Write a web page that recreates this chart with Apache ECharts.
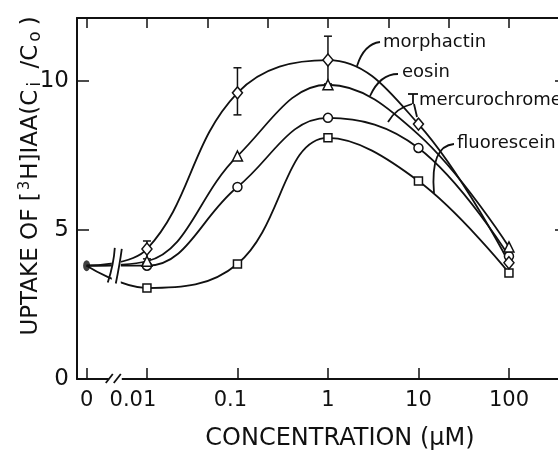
<!DOCTYPE html>
<html>
<head>
<meta charset="utf-8">
<script src="https://cdn.jsdelivr.net/npm/echarts@6/dist/echarts.min.js"></script>
<style>
    html, body { margin: 0; padding: 0; background: #fff; }
    #main { width: 558px; height: 451px; }
</style>
</head>
<body>
<div id="main"></div>
<script>
// 横轴用 log10(浓度)，"0" 放在 0.01 左边 2/3 个数量级处
var ZERO_POS = -8 / 3;
var concLabels = ['0', '0.01', '0.1', '1', '10', '100'];
var concPos = [ZERO_POS, -2, -1, 0, 1, 2];
var topTicks = [ZERO_POS, -2, -4 / 3, -2 / 3, 0, 2 / 3, 4 / 3, 2];
var yTicks = [0, 5, 10];

// 0 浓度对照
var control = [3.8];

// 0.01, 0.1, 1, 10, 100 μM
var morphactin = [4.36, 9.6, 10.7, 8.55, 3.9];
var eosin = [3.95, 7.48, 9.87, 8.2, 4.43];
var mercurochrome = [3.8, 6.44, 8.76, 7.75, 4.12];
var fluorescein = [3.05, 3.86, 8.09, 6.64, 3.56];

// morphactin 误差线
var errX = [-2, -1, 0];
var errLow = [4.03, 8.86, 9.9];
var errHigh = [4.63, 10.44, 11.5];

(function () {
    var FONT = 'DejaVu Sans';
    var INK = '#111';
    var myechart = echarts.init(document.getElementById('main'));

    // 每条曲线都从对照点出发
    var curve = function (name, vals, symbol, size) {
        var data = [{value: [ZERO_POS, control[0]], symbol: 'none'}];
        vals.forEach(function (v, i) {
            data.push([concPos[i + 1], v]);
        });
        return {
            name: name,
            type: 'line',
            data: data,
            smooth: 0.4,
            symbol: symbol,
            symbolSize: size,
            showAllSymbol: true,
            z: 3,
            lineStyle: {color: INK, width: 1.8},
            itemStyle: {color: '#fff', borderColor: INK, borderWidth: 1.5}
        };
    };

    var sMorph = curve('morphactin', morphactin, 'diamond', [10, 12]);
    var sEosin = curve('eosin', eosin, 'triangle', 10);
    var sMerc = curve('mercurochrome', mercurochrome, 'circle', 9);
    var sFluo = curve('fluorescein', fluorescein, 'rect', 8);
    // eosin 在 10 μM 处图上看不到符号
    sEosin.data[4] = {value: sEosin.data[4], symbol: 'none'};

    var errData = errX.map(function (x, i) {
        return [x, errLow[i], errHigh[i]];
    });

    var labelRich = {
        n: {fontSize: 21, fontFamily: FONT, color: INK},
        a: {fontSize: 21, fontFamily: FONT, color: INK, padding: [0, 28, 0, 0]},
        b: {fontSize: 21, fontFamily: FONT, color: INK, padding: [0, 14, 0, 0]}
    };

    var option = {
        animation: false,
        grid: {
            left: 77,
            right: -2,
            top: 18,
            bottom: 72,
            containLabel: false,
            outerBoundsMode: 'none'
        },
        xAxis: [
            {
                type: 'value',
                min: -2.773,
                max: 2.564,
                position: 'bottom',
                axisLine: {onZero: false, lineStyle: {color: INK, width: 2}},
                axisTick: {inside: true, length: 11, customValues: concPos, lineStyle: {color: INK, width: 1.5}},
                axisLabel: {
                    customValues: concPos,
                    margin: 11,
                    color: INK,
                    fontSize: 21,
                    fontFamily: FONT,
                    formatter: function (v) {
                        var idx = 0;
                        concPos.forEach(function (p, i) {
                            if (Math.abs(p - v) < 1e-6) idx = i;
                        });
                        var key = idx === 1 ? 'a' : (idx === 2 ? 'b' : 'n');
                        return '{' + key + '|' + concLabels[idx] + '}';
                    },
                    rich: labelRich
                },
                splitLine: {show: false}
            },
            {
                type: 'value',
                min: -2.773,
                max: 2.564,
                position: 'top',
                axisLine: {onZero: false, lineStyle: {color: INK, width: 2}},
                axisTick: {inside: true, length: 10, customValues: topTicks, lineStyle: {color: INK, width: 1.5}},
                axisLabel: {show: false},
                splitLine: {show: false}
            }
        ],
        yAxis: [
            {
                type: 'value',
                min: 0,
                max: 12.11,
                position: 'left',
                axisLine: {show: true, onZero: false, lineStyle: {color: INK, width: 2}},
                axisTick: {show: true, inside: true, length: 12, customValues: yTicks, lineStyle: {color: INK, width: 1.5}},
                axisLabel: {customValues: yTicks, margin: 8, color: INK, fontSize: 23, fontFamily: FONT},
                splitLine: {show: false}
            },
            {
                type: 'value',
                min: 0,
                max: 12.11,
                position: 'right',
                axisLine: {show: true, onZero: false, lineStyle: {color: INK, width: 2}},
                axisTick: {show: true, inside: true, length: 5, customValues: yTicks, lineStyle: {color: INK, width: 1.5}},
                axisLabel: {show: false},
                splitLine: {show: false}
            }
        ],
        series: [
            {
                name: 'error',
                type: 'custom',
                z: 2,
                data: errData,
                renderItem: function (params, api) {
                    var x = api.value(0);
                    var lo = api.coord([x, api.value(1)]);
                    var hi = api.coord([x, api.value(2)]);
                    var w = 4;
                    var st = {stroke: INK, lineWidth: 1.5};
                    return {
                        type: 'group',
                        children: [
                            {type: 'line', shape: {x1: lo[0], y1: lo[1], x2: hi[0], y2: hi[1]}, style: st},
                            {type: 'line', shape: {x1: hi[0] - w, y1: hi[1], x2: hi[0] + w, y2: hi[1]}, style: st},
                            {type: 'line', shape: {x1: lo[0] - w, y1: lo[1], x2: lo[0] + w, y2: lo[1]}, style: st}
                        ]
                    };
                }
            },
            sFluo,
            sMerc,
            sEosin,
            sMorph,
            {
                name: 'control',
                type: 'scatter',
                z: 5,
                data: [[ZERO_POS, control[0]]],
                symbol: 'circle',
                symbolSize: [7, 11],
                itemStyle: {color: INK}
            }
        ]
    };
    myechart.setOption(option);

    // 断轴标记：0 与 0.01 之间
    var cx = myechart.convertToPixel({xAxisIndex: 0}, (ZERO_POS + concPos[1]) / 2);
    var axisY = myechart.convertToPixel({yAxisIndex: 0}, 0);
    var bTop = myechart.convertToPixel({yAxisIndex: 0}, 4.6);
    var bBot = myechart.convertToPixel({yAxisIndex: 0}, 2.9);
    var ink = {stroke: INK, lineWidth: 1.8, fill: null};

    myechart.setOption({
        graphic: [
            // 横轴断开
            {type: 'rect', z: 50, shape: {x: cx - 8, y: axisY - 5, width: 13, height: 10}, style: {fill: '#fff'}},
            {type: 'line', z: 51, shape: {x1: cx - 11, y1: axisY + 4, x2: cx - 4, y2: axisY - 5}, style: ink},
            {type: 'line', z: 51, shape: {x1: cx - 3, y1: axisY + 4, x2: cx + 4, y2: axisY - 5}, style: ink},
            // 曲线断开
            {type: 'rect', z: 50, shape: {x: cx - 5, y: bTop, width: 9, height: bBot - bTop}, style: {fill: '#fff'}},
            {type: 'bezierCurve', z: 51, shape: {x1: cx - 2, y1: bTop + 6, cpx1: cx - 3, cpy1: bTop + 22, x2: cx - 9, y2: bBot - 10}, style: ink},
            {type: 'bezierCurve', z: 51, shape: {x1: cx + 5, y1: bTop + 7, cpx1: cx + 3, cpy1: bTop + 22, x2: cx - 1, y2: bBot - 9}, style: ink},

            // 纵轴标题
            {
                type: 'text',
                x: 31,
                y: 176,
                rotation: Math.PI / 2,
                style: {
                    text: 'UPTAKE OF [{sup|3}H]IAA(C{sub|i} /C{sub|o})',
                    fontSize: 23,
                    fontFamily: FONT,
                    fill: INK,
                    align: 'center',
                    verticalAlign: 'middle',
                    lineHeight: 27,
                    rich: {
                        sup: {fontSize: 15, fontFamily: FONT, fill: INK, verticalAlign: 'top', lineHeight: 25, padding: [0, 1, 0, 2]},
                        sub: {fontSize: 17, fontFamily: FONT, fill: INK, verticalAlign: 'bottom', lineHeight: 25, padding: [0, 6, 0, 3]}
                    }
                }
            },
            // 横轴标题
            {
                type: 'text',
                x: 340,
                y: 439,
                style: {
                    text: 'CONCENTRATION (μM)',
                    fontSize: 24,
                    fontFamily: FONT,
                    fill: INK,
                    align: 'center',
                    verticalAlign: 'middle'
                }
            },

            // 曲线注释
            {type: 'text', x: 383, y: 42, style: {text: 'morphactin', fontSize: 18, fontFamily: FONT, fill: INK, verticalAlign: 'middle'}},
            {type: 'bezierCurve', shape: {x1: 380, y1: 42, cpx1: 364, cpy1: 44, x2: 357, y2: 66}, style: ink},

            {type: 'text', x: 402, y: 72, style: {text: 'eosin', fontSize: 18, fontFamily: FONT, fill: INK, verticalAlign: 'middle'}},
            {type: 'bezierCurve', shape: {x1: 398, y1: 74, cpx1: 380, cpy1: 74, x2: 370, y2: 96}, style: ink},

            {type: 'text', x: 419, y: 100, style: {text: 'mercurochrome', fontSize: 18, fontFamily: FONT, fill: INK, verticalAlign: 'middle'}},
            {type: 'line', shape: {x1: 408, y1: 94, x2: 418, y2: 94}, style: ink},
            {type: 'line', shape: {x1: 413, y1: 94, x2: 413, y2: 104}, style: ink},
            {type: 'bezierCurve', shape: {x1: 412, y1: 104, cpx1: 396, cpy1: 108, x2: 388, y2: 122}, style: ink},
            {type: 'line', shape: {x1: 414, y1: 104, x2: 417, y2: 117}, style: ink},

            {type: 'text', x: 457, y: 143, style: {text: 'fluorescein', fontSize: 18, fontFamily: FONT, fill: INK, verticalAlign: 'middle'}},
            {type: 'bezierCurve', shape: {x1: 454, y1: 144, cpx1: 430, cpy1: 146, x2: 434, y2: 193}, style: ink}
        ]
    });
})();
</script>
</body>
</html>
